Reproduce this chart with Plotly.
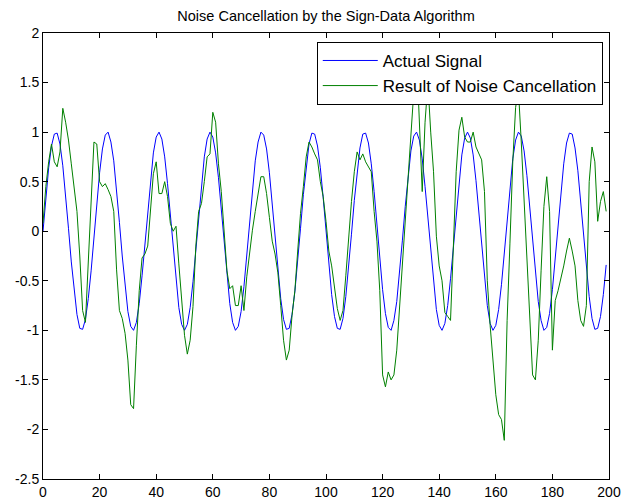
import plotly.graph_objects as go

# sample index
n = list(range(200))

# actual signal
actual = [
    0.00, 0.34, 0.64, 0.86, 0.98, 0.99, 0.88, 0.66, 0.37, 0.03,
    -0.31, -0.61, -0.84, -0.98, -0.99, -0.89, -0.68, -0.40, -0.06, 0.28,
    0.59, 0.83, 0.97, 1.00, 0.90, 0.71, 0.43, 0.09, -0.25, -0.56,
    -0.81, -0.96, -1.00, -0.92, -0.73, -0.45, -0.13, 0.22, 0.54, 0.79,
    0.95, 1.00, 0.93, 0.75, 0.48, 0.16, -0.19, -0.51, -0.77, -0.94,
    -1.00, -0.94, -0.77, -0.51, -0.19, 0.16, 0.48, 0.75, 0.93, 1.00,
    0.95, 0.79, 0.54, 0.22, -0.13, -0.45, -0.73, -0.92, -1.00, -0.96,
    -0.81, -0.56, -0.25, 0.09, 0.43, 0.71, 0.90, 1.00, 0.97, 0.83,
    0.59, 0.28, -0.06, -0.40, -0.68, -0.89, -0.99, -0.98, -0.84, -0.61,
    -0.31, 0.03, 0.37, 0.66, 0.88, 0.99, 0.98, 0.86, 0.64, 0.34,
    0.00, -0.34, -0.64, -0.86, -0.98, -0.99, -0.88, -0.66, -0.37, -0.03,
    0.31, 0.61, 0.84, 0.98, 0.99, 0.89, 0.68, 0.40, 0.06, -0.28,
    -0.59, -0.83, -0.97, -1.00, -0.90, -0.71, -0.43, -0.09, 0.25, 0.56,
    0.81, 0.96, 1.00, 0.92, 0.73, 0.45, 0.13, -0.22, -0.54, -0.79,
    -0.95, -1.00, -0.93, -0.75, -0.48, -0.16, 0.19, 0.51, 0.77, 0.94,
    1.00, 0.94, 0.77, 0.51, 0.19, -0.16, -0.48, -0.75, -0.93, -1.00,
    -0.95, -0.79, -0.54, -0.22, 0.13, 0.45, 0.73, 0.92, 1.00, 0.96,
    0.81, 0.56, 0.25, -0.09, -0.43, -0.71, -0.90, -1.00, -0.97, -0.83,
    -0.59, -0.28, 0.06, 0.40, 0.68, 0.89, 0.99, 0.98, 0.84, 0.61,
    0.31, -0.03, -0.37, -0.66, -0.88, -0.99, -0.98, -0.86, -0.64, -0.34,
]

# result of noise cancellation
result = [
    0.08, 0.45, 0.70, 0.88, 0.70, 0.65, 0.80, 1.24, 1.10, 0.92,
    0.68, 0.45, 0.20, -0.25, -0.80, -0.92, -0.35, 0.30, 0.90, 0.88,
    0.50, 0.45, 0.48, 0.42, 0.35, 0.20, -0.39, -0.80, -0.88, -1.03,
    -1.30, -1.75, -1.79, -1.15, -0.60, -0.27, -0.23, -0.15, 0.20, 0.58,
    0.70, 0.38, 0.38, 0.50, 0.35, 0.08, 0.00, 0.05, -0.33, -0.70,
    -1.05, -1.24, -1.10, -0.76, -0.15, 0.20, 0.28, 0.50, 0.75, 0.78,
    1.20, 1.10, 0.68, 0.40, 0.00, -0.40, -0.58, -0.55, -0.75, -0.75,
    -0.55, -0.80, -0.46, -0.20, 0.01, 0.20, 0.40, 0.55, 0.55, 0.38,
    0.14, -0.10, -0.23, -0.42, -0.75, -1.10, -1.30, -1.20, -0.85, -0.60,
    -0.20, 0.18, 0.45, 0.75, 0.90, 0.85, 0.78, 0.72, 0.50, 0.35,
    0.10, -0.20, -0.35, -0.58, -0.78, -0.90, -0.80, -0.45, -0.05, 0.30,
    0.60, 0.80, 0.72, 0.78, 0.70, 0.65, 0.60, 0.20, -0.10, -0.60,
    -1.45, -1.57, -1.42, -1.50, -1.45, -1.20, -0.75, -0.35, 0.10, 0.60,
    0.95, 1.40, 1.80, 1.00, 0.40, 1.10, 1.50, 1.00, 0.60, -0.05,
    -0.35, -0.50, -0.82, -0.86, -0.90, -0.16, 0.60, 1.02, 1.15, 0.95,
    0.90, 0.90, 1.00, 0.85, 0.78, 0.72, 0.40, -0.50, -0.95, -1.35,
    -1.65, -1.85, -1.90, -2.11, -0.90, -0.12, 0.70, 1.25, 1.42, 0.90,
    0.30, -0.33, -1.00, -1.45, -1.50, -1.10, -0.40, 0.25, 0.55, 0.20,
    -1.20, -0.70, -0.60, -0.48, -0.35, -0.20, -0.07, -0.20, -0.35, -0.70,
    -0.90, -0.96, -0.75, 0.50, 0.85, 0.70, 0.10, 0.30, 0.40, 0.20,
]

x_ticks = [0, 20, 40, 60, 80, 100, 120, 140, 160, 180, 200]
y_ticks = [2, 1.5, 1, 0.5, 0, -0.5, -1, -1.5, -2, -2.5]
y_labels = ['2', '1.5', '1', '0.5', '0', '-0.5', '-1', '-1.5', '-2', '-2.5']

font = 'Liberation Sans, Arial, sans-serif'

fig = go.Figure()
fig.add_trace(go.Scatter(x=n, y=actual, mode='lines', name='Actual Signal',
                         line=dict(color='#0000ff', width=1)))
fig.add_trace(go.Scatter(x=n, y=result, mode='lines', name='Result of Noise Cancellation',
                         line=dict(color='#008000', width=1)))

axis_style = dict(showline=True, linecolor='black', linewidth=1, mirror='ticks',
                  ticks='inside', ticklen=5, tickcolor='black', showgrid=False,
                  zeroline=False, automargin=False,
                  tickfont=dict(family=font, size=14, color='black'))

fig.update_xaxes(range=[0, 200], tickvals=x_ticks,
                 ticktext=[str(v) for v in x_ticks], **axis_style)
fig.update_yaxes(range=[-2.5, 2], tickvals=y_ticks, ticktext=y_labels, **axis_style)

fig.update_layout(
    width=621, height=503,
    margin=dict(l=43, r=12, t=33, b=24),
    paper_bgcolor='white', plot_bgcolor='white',
    font=dict(family=font, size=14, color='black'),
    title=dict(text='Noise Cancellation by the Sign-Data Algorithm',
               x=0.525, xanchor='center', y=0.968, yanchor='middle',
               font=dict(family=font, size=14.5, color='black')),
    legend=dict(x=0.989, xanchor='right', y=0.98, yanchor='top',
                bgcolor='white', bordercolor='black', borderwidth=1,
                font=dict(family=font, size=17, color='black'),
                itemwidth=55, tracegroupgap=0),
    showlegend=True,
)

# drop the page's default body margin so the figure sits at the window's corner
fig.write_html("out.html", config={'displayModeBar': False},
               post_script="document.body.style.margin='0';document.body.style.overflow='hidden';")
